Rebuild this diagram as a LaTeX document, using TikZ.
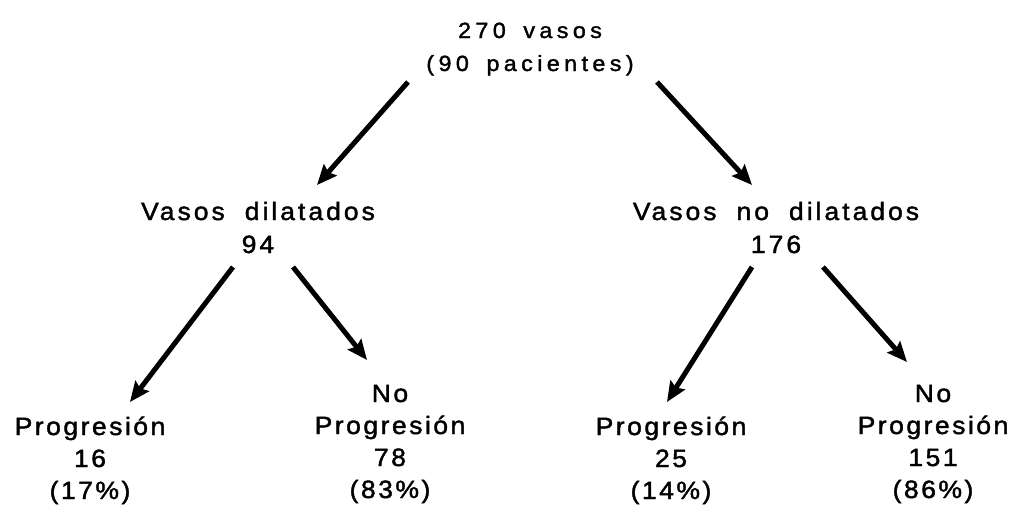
\documentclass[tikz,border=0pt]{standalone}
\usepackage{fontspec}
\setmainfont{Liberation Sans}[LetterSpace=12,FakeStretch=1.06,FakeBold=1.6]
\usetikzlibrary{arrows.meta}
\newcommand{\wgap}{\hspace{0.8em}}

\begin{document}
\begin{tikzpicture}[x=1pt,y=-1pt]
\tikzstyle{lbl}=[align=center,anchor=base,inner sep=0pt,font=\fontsize{25}{33}\selectfont]
\tikzstyle{every node}=[lbl]
\tikzstyle{leaf}=[font=\fontsize{25}{32}\selectfont\addfontfeature{LetterSpace=10}]
\tikzstyle{arr}=[line width=5pt,-{Stealth[length=20pt,width=17pt,inset=3pt]}]
\useasboundingbox (0,0) rectangle (1020,507);
% levels
\node[font=\fontsize{22}{33}\selectfont\addfontfeature{LetterSpace=20}] (root) at (530,71) {270\wgap vasos\\(90\wgap pacientes)};
\node (vd) at (258,253) {Vasos\wgap dilatados\\94};
\node (vnd) at (776,253) {Vasos\wgap no\wgap dilatados\\176};
\node[leaf] (pl) at (90,499) {Progresión\\16\\(17\%)};
\node[leaf] (npl) at (390,498) {No\\Progresión\\78\\(83\%)};
\node[leaf] (pr) at (671,499) {Progresión\\25\\(14\%)};
\node[leaf] (npr) at (933,498) {No\\Progresión\\151\\(86\%)};
% arrows
\draw[arr] ([shift={(-122,11)}]root.base) -- ([shift={(59,-68)}]vd.base);
\draw[arr] ([shift={(127,11)}]root.base) -- ([shift={(-24,-68)}]vnd.base);
\draw[arr] ([shift={(-25,14)}]vd.base) -- ([shift={(40,-97)}]pl.base);
\draw[arr] ([shift={(35,14)}]vd.base) -- ([shift={(-23,-138)}]npl.base);
\draw[arr] ([shift={(-24,14)}]vnd.base) -- ([shift={(-4,-97)}]pr.base);
\draw[arr] ([shift={(47,14)}]vnd.base) -- ([shift={(-26,-136)}]npr.base);
\end{tikzpicture}
\end{document}
